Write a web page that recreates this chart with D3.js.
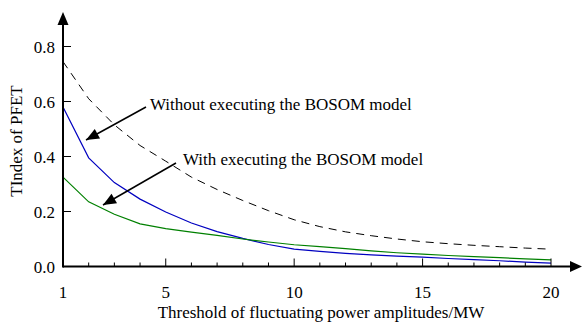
<!DOCTYPE html>
<html><head><meta charset="utf-8">
<script src="https://cdn.jsdelivr.net/npm/d3@7"></script>
<style>body{margin:0;background:#fff}</style>
</head><body>
<svg id="c" width="582" height="325"></svg>
<script>
const xs = [1,2,3,4,5,6,7,8,9,10,11,12,13,14,15,16,17,18,19,20];
const withoutVals = [0.745,0.61,0.515,0.44,0.383,0.325,0.28,0.24,0.203,0.17,0.145,0.126,0.112,0.1,0.09,0.083,0.077,0.072,0.067,0.063];
const withBlue = [0.58,0.395,0.305,0.245,0.198,0.158,0.127,0.102,0.08,0.063,0.055,0.048,0.042,0.038,0.034,0.029,0.025,0.021,0.016,0.012];
const withGreen = [0.325,0.235,0.19,0.155,0.138,0.125,0.113,0.1,0.089,0.079,0.072,0.065,0.057,0.05,0.045,0.04,0.036,0.032,0.028,0.024];
const xTicks = [1,5,10,15,20];
const yTicks = [0,0.2,0.4,0.6,0.8];
const annWithout = "Without executing the BOSOM model";
const annWith = "With executing the BOSOM model";

const svg = d3.select("#c");
const FF = '"Liberation Serif"';
function txt(){ return svg.append("text").style("font-family",FF).style("font-size","17px").attr("fill","#000"); }
const x = d3.scaleLinear().domain([1,20]).range([63,551]);
const y = d3.scaleLinear().domain([0,0.8]).range([266.5,46.5]);

const line = d3.line().x((d,i)=>x(xs[i])).y(d=>y(d));
svg.append("path").attr("d",line(withoutVals)).attr("fill","none").attr("stroke","#000").attr("stroke-width",1).attr("stroke-dasharray","8,6");
svg.append("path").attr("d",line(withBlue)).attr("fill","none").attr("stroke","#0000c0").attr("stroke-width",1.2);
svg.append("path").attr("d",line(withGreen)).attr("fill","none").attr("stroke","#008000").attr("stroke-width",1.2);

// x axis
const x0 = y(0);
svg.append("line").attr("x1",x(1)).attr("x2",574).attr("y1",x0).attr("y2",x0).attr("stroke","#000").attr("stroke-width",2);
svg.append("path").attr("d",`M582,${x0} L570,${x0-5.5} L570,${x0+5.5} Z`).attr("fill","#000");
d3.range(2,21).forEach(v=>{
  const major = xTicks.includes(v);
  svg.append("line").attr("x1",x(v)).attr("x2",x(v)).attr("y1",x0).attr("y2",x0-(major?8:4)).attr("stroke","#000").attr("stroke-width",1);
});
xTicks.forEach(v=>{
  txt().attr("x",x(v)).attr("y",298).attr("text-anchor","middle").text(v);
});
// y axis
const y0 = x(1);
svg.append("line").attr("x1",y0).attr("x2",y0).attr("y1",x0+1).attr("y2",22).attr("stroke","#000").attr("stroke-width",2);
svg.append("path").attr("d",`M${y0},12 L${y0-5.5},25 L${y0+5.5},25 Z`).attr("fill","#000");
yTicks.forEach(v=>{
  if(v>0) svg.append("line").attr("x1",y0).attr("x2",y0+8).attr("y1",y(v)).attr("y2",y(v)).attr("stroke","#000").attr("stroke-width",1);
  txt().attr("x",55).attr("y",y(v)+6).attr("text-anchor","end").text(v.toFixed(1));
});
// axis labels
txt().attr("x",321).attr("y",318).attr("text-anchor","middle").text("Threshold of fluctuating power amplitudes/MW");
txt().attr("transform","translate(22,141) rotate(-90)").attr("text-anchor","middle").text("TIndex of PFET");

// annotations
function arrow(x1,y1,x2,y2){
  svg.append("line").attr("x1",x1).attr("y1",y1).attr("x2",x2).attr("y2",y2).attr("stroke","#000").attr("stroke-width",1.5);
  const a = Math.atan2(y2-y1,x2-x1), L=13, W=5.5;
  const bx = x2-L*Math.cos(a), by = y2-L*Math.sin(a);
  const px = -Math.sin(a)*W, py = Math.cos(a)*W;
  svg.append("path").attr("d",`M${x2},${y2} L${bx+px},${by+py} L${bx-px},${by-py} Z`).attr("fill","#000");
}
txt().attr("x",150).attr("y",110).text(annWithout);
arrow(146,107,86,140);
txt().attr("x",183).attr("y",165).text(annWith);
arrow(176,163,103,205);
</script>
</body></html>
